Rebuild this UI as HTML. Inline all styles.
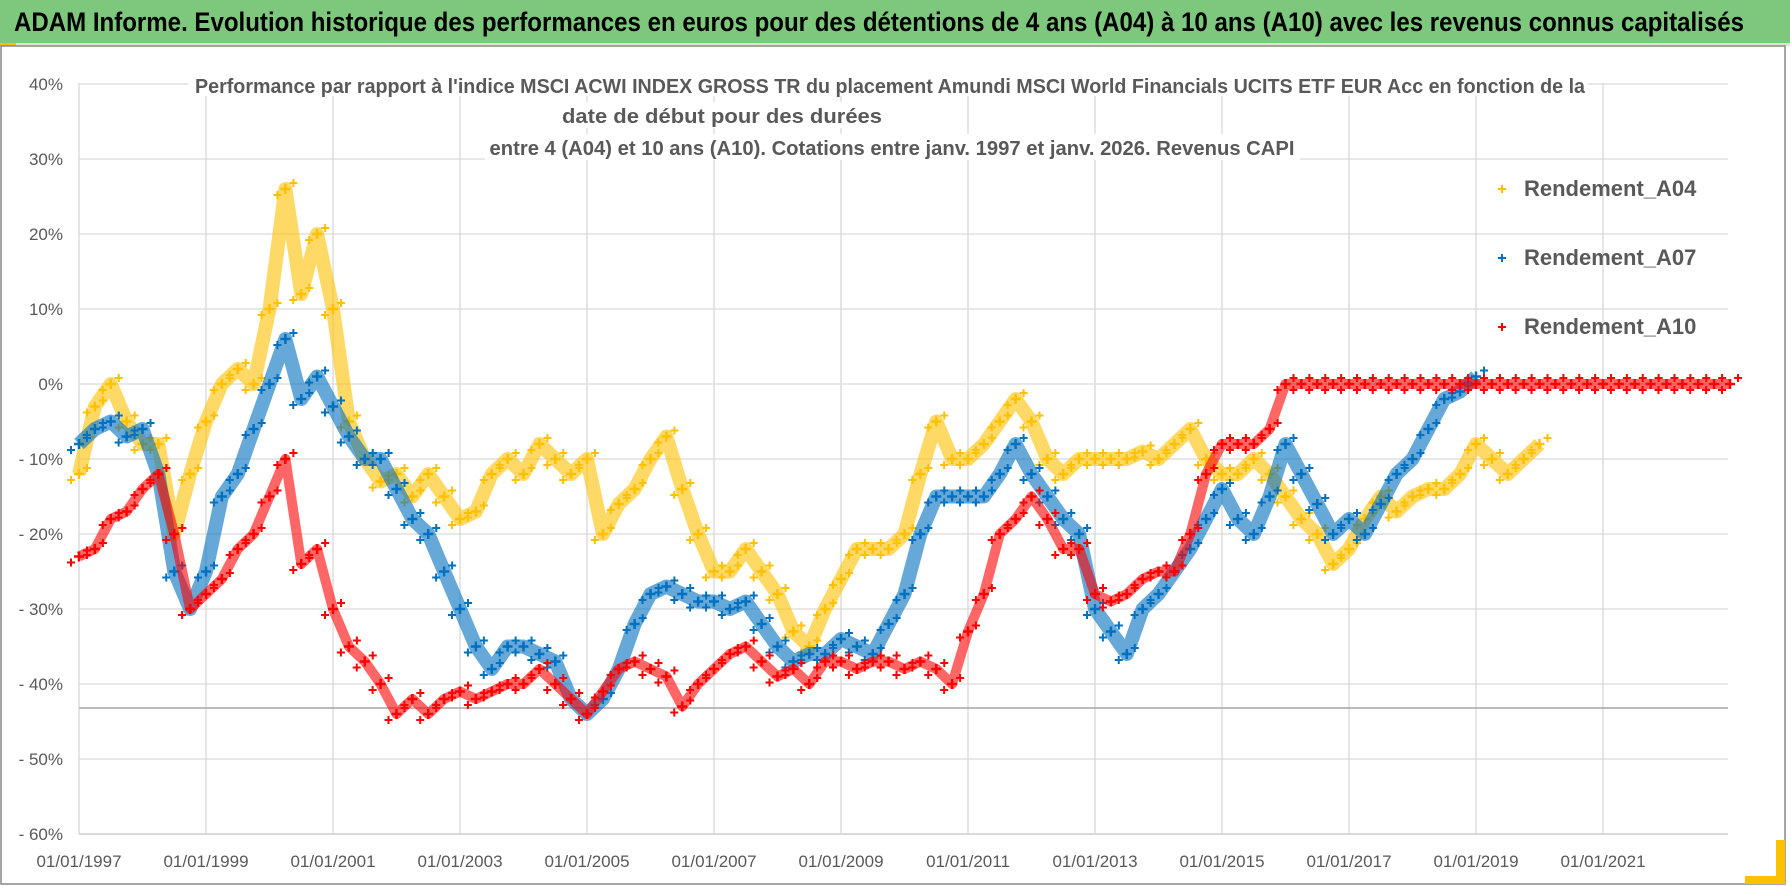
<!DOCTYPE html>
<html><head><meta charset="utf-8">
<style>
html,body{margin:0;padding:0;background:#fff;}
svg{display:block;font-family:"Liberation Sans Narrow","Liberation Sans",sans-serif;}
</style></head>
<body>
<svg id="chart" width="1790" height="886" viewBox="0 0 1790 886" xmlns="http://www.w3.org/2000/svg">
  <rect x="0" y="0" width="1790" height="886" fill="#fff"/>
  <rect x="0" y="0" width="1790" height="43" fill="#7dc87d"/>
  <rect x="0" y="43" width="1790" height="3" fill="#e0e0e0"/>
  <rect x="0" y="43" width="16" height="3" fill="#ffc000"/>
  <text x="14" y="31" font-size="27" font-weight="bold" fill="#000" textLength="1730" lengthAdjust="spacingAndGlyphs">ADAM Informe. Evolution historique des performances en euros pour des détentions de 4 ans (A04) à 10 ans (A10) avec les revenus connus capitalisés</text>
  <rect x="1" y="46" width="1784" height="838" fill="none" stroke="#888" stroke-width="1.5"/>
  <rect x="1776" y="840" width="9" height="44" fill="#ffc000"/>
  <rect x="1745" y="876" width="40" height="8" fill="#ffc000"/>
  <g id="grid"></g>
  <g id="axes"></g>
  <g id="series"></g>
  <g>
    <rect x="188" y="70" width="1400" height="26" fill="#fff"/>
    <rect x="550" y="102" width="345" height="26" fill="#fff"/>
    <rect x="485" y="134" width="815" height="26" fill="#fff"/>
    <text x="890" y="93" font-size="20" font-weight="bold" fill="#595959" text-anchor="middle" textLength="1390" lengthAdjust="spacingAndGlyphs">Performance par rapport à l'indice MSCI ACWI INDEX GROSS TR  du placement Amundi MSCI World Financials UCITS ETF EUR Acc en fonction de la</text>
    <text x="722" y="123" font-size="20" font-weight="bold" fill="#595959" text-anchor="middle" textLength="320" lengthAdjust="spacingAndGlyphs">date de début pour des durées</text>
    <text x="892" y="155" font-size="20" font-weight="bold" fill="#595959" text-anchor="middle" textLength="805" lengthAdjust="spacingAndGlyphs">entre 4 (A04) et 10 ans (A10).  Cotations entre janv. 1997 et janv. 2026. Revenus CAPI</text>
  </g>
  <g id="legend"></g>
</svg>
<script>
const startYear = 1997.0;
const stepYear = 0.25;
const yTicks = [40,30,20,10,0,-10,-20,-30,-40,-50,-60];
const yTickLabels = ["40%","30%","20%","10%","0%","- 10%","- 20%","- 30%","- 40%","- 50%","- 60%"];
const xTicks = [1997,1999,2001,2003,2005,2007,2009,2011,2013,2015,2017,2019,2021];
const xTickLabels = ["01/01/1997","01/01/1999","01/01/2001","01/01/2003","01/01/2005","01/01/2007","01/01/2009","01/01/2011","01/01/2013","01/01/2015","01/01/2017","01/01/2019","01/01/2021"];
const refLineValue = -43.2;
const seriesNames = ["Rendement_A04","Rendement_A07","Rendement_A10"];
const a04 = [-12,-3,0,-5, -8,-8,-20,-12, -5,0,2,0, 10,26,12,20, 10,-5,-10,-13, -12,-15,-12,-15, -18,-17,-12,-10, -12,-8,-10,-12, -10,-20,-16,-14, -10,-7,-14,-20, -25,-25,-22,-25, -28,-33,-35,-30, -26,-22,-22,-22, -20,-12,-5,-10, -10,-8,-5,-2, -5,-10,-12,-10, -10,-10,-10,-9, -10,-8,-6,-10, -12,-12,-10,-12, -15,-18,-20,-24, -22,-18,-15,-17, -15,-14,-14,-12, -8,-10,-12,-10, -8];
const a07 = [-8,-6,-5,-7, -6,-12,-25,-30, -25,-15,-12,-6, 0,6,-2,1, -3,-7,-10,-10, -14,-18,-20,-25, -30,-35,-38,-35, -35,-36,-37,-42, -44,-42,-38,-32, -28,-27,-28,-29, -29,-30,-29,-32, -35,-37,-36,-36, -34,-35,-36,-32, -28,-20,-15,-15, -15,-15,-12,-8, -12,-15,-18,-20, -30,-33,-36,-30, -28,-25,-22,-18, -14,-18,-20,-15, -8,-12,-16,-20, -18,-20,-16,-12, -10,-6,-2,-1, 1];
const a10 = [-23,-22,-18,-17, -14,-12,-20,-30, -28,-26,-22,-20, -15,-10,-24,-22, -30,-35,-37,-40, -44,-42,-44,-42, -41,-42,-41,-40, -40,-38,-40,-42, -44,-41,-38,-37, -38,-39,-43,-40, -38,-36,-35,-37, -39,-38,-40,-37, -37,-38,-37,-37, -38,-37,-38,-40, -33,-28,-20,-18, -15,-18,-22,-22, -28,-29,-28,-26, -25,-25,-20,-12, -8,-8,-8,-6, 0,0,0,0, 0,0,0,0, 0,0,0,0, 0,0,0,0, 0,0,0,0, 0,0,0,0, 0,0,0,0, 0];
const seriesColors = ["#ffc000","#0070c0","#ff0000"];

const NS = "http://www.w3.org/2000/svg";
const plotL = 79, plotR = 1728, plotT = 83, plotB = 834;
function xScale(year){ return 79 + (year - 1997) * 63.5; }
function yScale(v){ return 384 - v * 7.5; }
function mk(tag, attrs, parent){ const e = document.createElementNS(NS, tag); for (const k in attrs) e.setAttribute(k, attrs[k]); parent.appendChild(e); return e; }

const grid = document.getElementById('grid');
const axes = document.getElementById('axes');
yTicks.forEach((t, i) => {
  const y = yScale(t);
  const g = mk('line', {x1: plotL, x2: plotR, y1: y, y2: y, stroke: '#d9d9d9', 'stroke-width': 1.3}, grid);
  
  
  const lb = mk('text', {x: 63, y: y + 6, 'font-size': 17, fill: '#595959', 'text-anchor': 'end'}, axes);
  lb.textContent = yTickLabels[i];
  
  
});
xTicks.forEach((t, i) => {
  const x = xScale(t);
  const g = mk('line', {x1: x, x2: x, y1: plotT, y2: plotB, stroke: '#d9d9d9', 'stroke-width': 1.3}, grid);
  
  
  const lb = mk('text', {x: x, y: 867, 'font-size': 17, fill: '#595959', 'text-anchor': 'middle'}, axes);
  lb.textContent = xTickLabels[i];
  
  
});
const ref = mk('line', {x1: plotL, x2: plotR, y1: yScale(refLineValue), y2: yScale(refLineValue), stroke: '#a6a6a6', 'stroke-width': 1.5}, grid);


const ax = mk('line', {x1: plotL, x2: plotR, y1: plotB, y2: plotB, stroke: '#d0d0d0', 'stroke-width': 1.5}, axes);



const seriesG = document.getElementById('series');
function plus(parent, x, y, s, color, w){
  mk('path', {d: `M${x-s},${y}H${x+s}M${x},${y-s}V${y+s}`, stroke: color, 'stroke-width': w, fill: 'none'}, parent);
}
[a04, a07, a10].forEach((vals, si) => {
  const g = mk('g', {}, seriesG);
  
  
  const pts = vals.map((v, i) => xScale(startYear + i * stepYear).toFixed(1) + ',' + yScale(v).toFixed(1));
  mk('polyline', {points: pts.join(' '), fill: 'none', stroke: seriesColors[si], 'stroke-width': si === 2 ? 10 : 14, 'stroke-opacity': 0.6, 'stroke-linejoin': 'round'}, g);
  vals.forEach((v, i) => {
    const x = xScale(startYear + i * stepYear), y = yScale(v);
    plus(g, x, y, 5, seriesColors[si], 2.5);
    plus(g, x + 8, y - 6, 4, seriesColors[si], 2);
    plus(g, x - 8, y + 6, 4, seriesColors[si], 2);
  });
});

const legend = document.getElementById('legend');
seriesNames.forEach((n, i) => {
  const y = 196 + i * 69;
  const e = mk('g', {}, legend);
  
  
  plus(e, 1502, y - 7, 4, seriesColors[i], 2);
  const t = mk('text', {x: 1524, y: y, 'font-size': 22, 'font-weight': 'bold', fill: '#595959'}, e);
  t.textContent = n;
});
</script>
</body></html>
